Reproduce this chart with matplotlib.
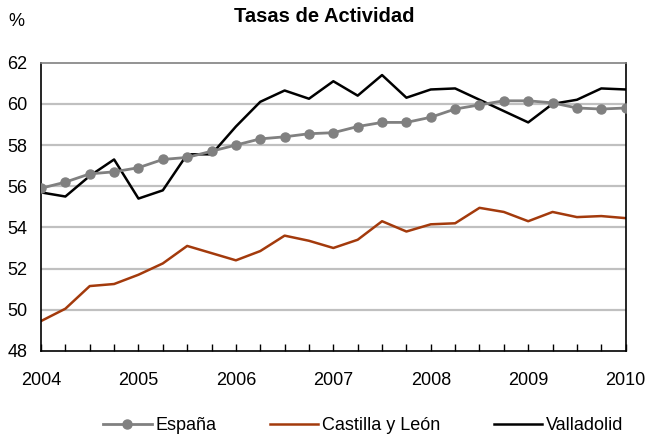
import numpy as np
import matplotlib.pyplot as plt

plt.rcParams['font.family'] = ['Liberation Sans', 'DejaVu Sans']

# trimestres 2004T1 .. 2010T1
years = ['2004', '2005', '2006', '2007', '2008', '2009', '2010']
espana = [55.9, 56.2, 56.6, 56.7, 56.9, 57.3, 57.4, 57.7, 58.0, 58.3, 58.4, 58.55,
          58.6, 58.9, 59.1, 59.1, 59.35, 59.75, 59.95, 60.15, 60.15, 60.05, 59.8, 59.75, 59.8]
castilla = [49.45, 50.05, 51.15, 51.25, 51.7, 52.25, 53.1, 52.75, 52.4, 52.85, 53.6, 53.35,
            53.0, 53.4, 54.3, 53.8, 54.15, 54.2, 54.95, 54.75, 54.3, 54.75, 54.5, 54.55, 54.45]
valladolid = [55.7, 55.5, 56.5, 57.3, 55.4, 55.8, 57.55, 57.55, 58.9, 60.1, 60.65, 60.25,
              61.1, 60.4, 61.4, 60.3, 60.7, 60.75, 60.2, 59.65, 59.1, 60.0, 60.2, 60.75, 60.7]

x = np.arange(len(espana))

fig = plt.figure(figsize=(6.45, 4.37), dpi=100)
ax = fig.add_axes([0.0636, 0.197, 0.9064, 0.6595])

for yv in [50, 52, 54, 56, 58, 60]:
    ax.axhline(yv, color='#c0c0c0', lw=1.6, zorder=0)

ax.plot(x, espana, color='#808080', lw=2, marker='o', ms=6.5, label='España', zorder=3)
ax.plot(x, castilla, color='#a33a0c', lw=1.8, label='Castilla y León', zorder=2)
ax.plot(x, valladolid, color='black', lw=1.8, label='Valladolid', zorder=2)

ax.set_xlim(0, 24)
ax.set_ylim(48, 62)
ax.set_yticks(range(48, 63, 2))
ax.set_xticks(x)
ax.set_xticklabels([years[i // 4] if i % 4 == 0 else '' for i in x])
ax.tick_params(axis='x', direction='in', length=5, width=1, pad=15, labelsize=13)
ax.tick_params(axis='y', length=0, pad=10, labelsize=13)

for s in ['left', 'bottom', 'right']:
    ax.spines[s].set_color('black')
    ax.spines[s].set_linewidth(1.2)
ax.spines['top'].set_color('#808080')
ax.spines['top'].set_linewidth(1.2)

fig.text(0.502, 0.963, 'Tasas de Actividad', ha='center', va='center',
         fontsize=14.5, fontweight='bold')
fig.text(0.026, 0.95, '%', ha='center', va='center', fontsize=13)

fig.legend(loc='center', bbox_to_anchor=(0.563, 0.026), ncol=3, frameon=False,
           fontsize=13, handlelength=2.7, columnspacing=2.95, handletextpad=0.2)

fig.savefig('out.png', dpi=100)
